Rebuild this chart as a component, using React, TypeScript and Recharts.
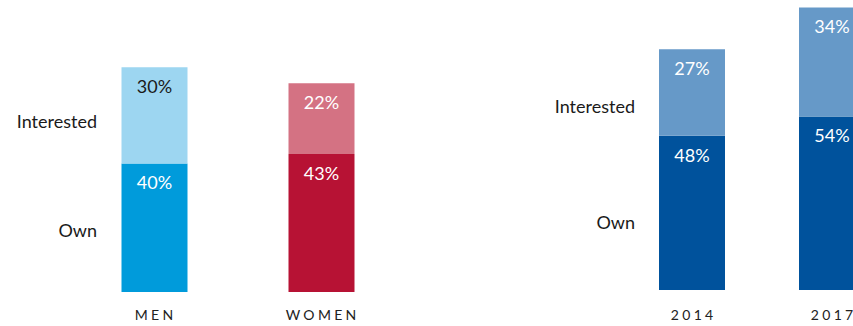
import { BarChart, Bar, XAxis, YAxis, Cell, LabelList } from 'recharts';

const genderCategories = ['MEN', 'WOMEN'];
const genderOwn = [40, 43];
const genderInterested = [30, 22];

const yearCategories = ['2014', '2017'];
const yearOwn = [48, 54];
const yearInterested = [27, 34];

// where the row captions sit on the value scale
const genderRowTicks = [19, 53];
const yearRowTicks = [21, 57];
const rowNames = ['Own', 'Interested'];

const FONT = 'Lato, "Noto Sans", sans-serif';

const GENDER_OWN_COLORS = ['#009bdb', '#b71234'];
const GENDER_INT_COLORS = ['#9dd6f1', '#d47283'];
const GENDER_OWN_TEXT = ['#ffffff', '#ffffff'];
const GENDER_INT_TEXT = ['#1a1a1a', '#ffffff'];

const YEAR_OWN_COLORS = ['#00529c', '#00529c'];
const YEAR_INT_COLORS = ['#6699c8', '#6699c8'];
const WHITE_TEXT = ['#ffffff', '#ffffff'];

const genderData = genderCategories.map((name, i) => ({
  name,
  own: genderOwn[i],
  interested: genderInterested[i],
}));

const yearData = yearCategories.map((name, i) => ({
  name,
  own: yearOwn[i],
  interested: yearInterested[i],
}));

function rowTick(shift: number, ticks: number[]) {
  return (props: any) => {
    const { x, y, payload } = props;
    const idx = ticks.indexOf(payload.value);
    return (
      <text
        x={x + shift}
        y={y}
        dy="0.355em"
        textAnchor="end"
        fontFamily={FONT}
        fontSize={18}
        fill="#1a1a1a"
      >
        {rowNames[idx]}
      </text>
    );
  };
}

// spaced-out caps, gap only between letters (no trailing space)
const XTick = (props: any) => {
  const { x, y, payload } = props;
  const chars = String(payload.value).split('');
  return (
    <text
      x={x}
      y={y}
      dy="0.71em"
      textAnchor="middle"
      fontFamily={FONT}
      fontSize={14}
      fill="#222"
    >
      {chars.map((c, i) => (
        <tspan key={i} dx={i === 0 ? 0 : 3.3}>
          {c}
        </tspan>
      ))}
    </text>
  );
};

function pctLabel(colors: string[]) {
  return (props: any) => {
    const vb = props.viewBox || props;
    const { x, y, width } = vb;
    const idx = props.index ?? 0;
    return (
      <text
        x={x + width / 2}
        y={y + 13}
        dy="0.71em"
        textAnchor="middle"
        fontFamily={FONT}
        fontSize={18}
        fill={colors[idx]}
      >
        {props.value}%
      </text>
    );
  };
}

export default function App() {
  return (
    <div
      style={{
        position: 'fixed',
        left: 0,
        top: 0,
        width: 853,
        height: 326,
        overflow: 'hidden',
        background: '#fff',
      }}
    >
      <div style={{ position: 'absolute', left: 0, top: 0 }}>
        <BarChart
          width={405}
          height={326}
          data={genderData}
          margin={{ top: 3, right: 0.5, left: 0, bottom: 0 }}
        >
          <XAxis
            dataKey="name"
            axisLine={false}
            tickLine={false}
            tickSize={0}
            tickMargin={18.5}
            height={34}
            tick={XTick}
            interval={0}
          />
          <YAxis
            domain={[0, 90]}
            ticks={genderRowTicks}
            width={70.5}
            axisLine={false}
            tickLine={false}
            tickSize={0}
            tickMargin={0}
            tick={rowTick(26.5, genderRowTicks)}
            interval={0}
          />
          <Bar dataKey="own" stackId="a" barSize={66} isAnimationActive={false}>
            {genderData.map((_, i) => (
              <Cell key={`own-${i}`} fill={GENDER_OWN_COLORS[i]} />
            ))}
            <LabelList dataKey="own" content={pctLabel(GENDER_OWN_TEXT)} />
          </Bar>
          <Bar dataKey="interested" stackId="a" barSize={66} isAnimationActive={false}>
            {genderData.map((_, i) => (
              <Cell key={`int-${i}`} fill={GENDER_INT_COLORS[i]} />
            ))}
            <LabelList dataKey="interested" content={pctLabel(GENDER_INT_TEXT)} />
          </Bar>
        </BarChart>
      </div>
      <div style={{ position: 'absolute', left: 540, top: 0 }}>
        <BarChart
          width={362}
          height={326}
          data={yearData}
          margin={{ top: 1, right: 0, left: 0, bottom: 0 }}
        >
          <XAxis
            dataKey="name"
            axisLine={false}
            tickLine={false}
            tickSize={0}
            tickMargin={20}
            height={36}
            tick={XTick}
            interval={0}
          />
          <YAxis
            domain={[0, 90]}
            ticks={yearRowTicks}
            width={82}
            axisLine={false}
            tickLine={false}
            tickSize={0}
            tickMargin={0}
            tick={rowTick(13, yearRowTicks)}
            interval={0}
          />
          <Bar dataKey="own" stackId="a" barSize={66} isAnimationActive={false}>
            {yearData.map((_, i) => (
              <Cell key={`own-${i}`} fill={YEAR_OWN_COLORS[i]} />
            ))}
            <LabelList dataKey="own" content={pctLabel(WHITE_TEXT)} />
          </Bar>
          <Bar dataKey="interested" stackId="a" barSize={66} isAnimationActive={false}>
            {yearData.map((_, i) => (
              <Cell key={`int-${i}`} fill={YEAR_INT_COLORS[i]} />
            ))}
            <LabelList dataKey="interested" content={pctLabel(WHITE_TEXT)} />
          </Bar>
        </BarChart>
      </div>
    </div>
  );
}
